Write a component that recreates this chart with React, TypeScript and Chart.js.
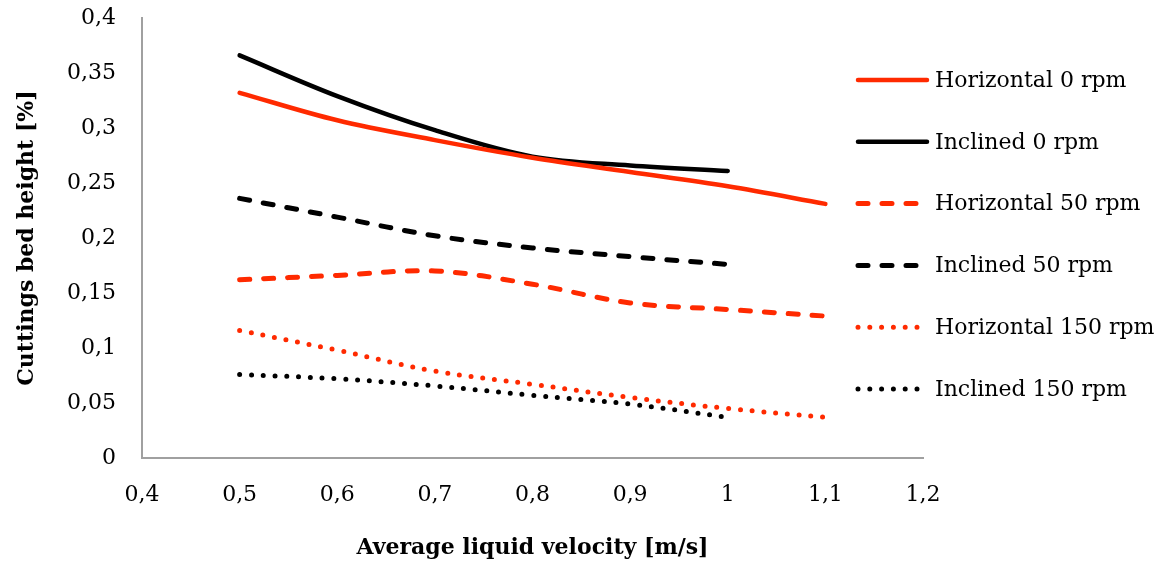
import { useEffect, useRef } from 'react';
import { Chart, registerables } from 'chart.js';

Chart.register(...registerables);

const velocities = [0.5, 0.6, 0.7, 0.8, 0.9, 1.0, 1.1];
const horizontal0 = [0.332, 0.307, 0.289, 0.273, 0.26, 0.247, 0.231];
const inclined0 = [0.366, 0.329, 0.298, 0.274, 0.266, 0.261];
const horizontal50 = [0.162, 0.166, 0.17, 0.158, 0.141, 0.135, 0.129];
const inclined50 = [0.236, 0.219, 0.202, 0.191, 0.183, 0.176];
const horizontal150 = [0.116, 0.098, 0.079, 0.067, 0.055, 0.045, 0.037];
const inclined150 = [0.076, 0.072, 0.0655, 0.057, 0.049, 0.037];
const seriesLabels = [
  'Horizontal 0 rpm',
  'Inclined 0 rpm',
  'Horizontal 50 rpm',
  'Inclined 50 rpm',
  'Horizontal 150 rpm',
  'Inclined 150 rpm',
];
const xTitle = 'Average liquid velocity [m/s]';
const yTitle = 'Cuttings bed height [%]';

const RED = '#ff2a00';
const BLACK = '#000000';
const FONT = '"DejaVu Serif", serif';

const fmt = (v: number) => String(Number(v.toFixed(2))).replace('.', ',');

const toPoints = (ys: number[]) => ys.map((y, i) => ({ x: velocities[i], y }));

const sideLegend = {
  id: 'sideLegend',
  afterDraw(chart: any) {
    const ctx = chart.ctx as CanvasRenderingContext2D;
    const x0 = 858;
    const x1 = 927;
    const tx = 935;
    const top = 80;
    const gap = 61.8;
    chart.data.datasets.forEach((ds: any, i: number) => {
      const y = top + i * gap;
      ctx.save();
      ctx.strokeStyle = ds.borderColor;
      ctx.lineWidth = ds.borderWidth;
      ctx.lineCap = 'round';
      const dash = ds.borderDash || [];
      ctx.setLineDash(dash);
      ctx.beginPath();
      const end = dash.length ? (dash[0] === 0 ? 919 : 920) : x1;
      ctx.moveTo(x0, y);
      ctx.lineTo(end, y);
      ctx.stroke();
      ctx.setLineDash([]);
      ctx.fillStyle = '#000';
      ctx.font = `22px ${FONT}`;
      ctx.textBaseline = 'middle';
      ctx.textAlign = 'left';
      ctx.fillText(ds.label, tx, y + 1);
      ctx.restore();
    });
  },
};

export default function App() {
  const ref = useRef<HTMLCanvasElement>(null);
  useEffect(() => {
    if (!ref.current) return;
    const solid: number[] = [];
    const dashed = [10, 14];
    const dotted = [0, 11.8];
    const mk = (i: number, data: number[], color: string, dash: number[], width: number) => ({
      label: seriesLabels[i],
      data: toPoints(data),
      borderColor: color,
      backgroundColor: color,
      borderWidth: width,
      borderDash: dash,
      borderCapStyle: 'round' as const,
      borderJoinStyle: 'round' as const,
      pointRadius: 0,
      pointHoverRadius: 0,
      tension: 0.35,
      fill: false,
    });
    const chart = new Chart(ref.current, {
      type: 'line',
      data: {
        datasets: [
          mk(0, horizontal0, RED, solid, 4.5),
          mk(1, inclined0, BLACK, solid, 4.5),
          mk(2, horizontal50, RED, dashed, 5),
          mk(3, inclined50, BLACK, dashed, 5),
          mk(4, horizontal150, RED, dotted, 5),
          mk(5, inclined150, BLACK, dotted, 5),
        ],
      },
      options: {
        responsive: false,
        animation: false,
        layout: { padding: { top: 18, right: 242, left: 0, bottom: 0 } },
        plugins: {
          legend: { display: false },
          tooltip: { enabled: false },
        },
        scales: {
          x: {
            type: 'linear',
            min: 0.4,
            max: 1.2,
            grid: { display: false, drawTicks: false },
            border: { display: true, color: '#a0a0a0', width: 2 },
            ticks: {
              stepSize: 0.1,
              padding: 24,
              color: '#000',
              font: { family: FONT, size: 22 },
              callback: (v: any) => fmt(Number(v)),
            },
            title: {
              display: true,
              text: xTitle,
              color: '#000',
              font: { family: FONT, size: 22, weight: 'bold' },
              padding: { top: 0, bottom: 9 },
            },
            afterFit: (s: any) => {
              s.height = 112;
              s.paddingLeft = 0;
              s.paddingRight = 0;
            },
          },
          y: {
            type: 'linear',
            min: 0,
            max: 0.4,
            grid: { display: false, drawTicks: false },
            border: { display: true, color: '#a0a0a0', width: 2 },
            ticks: {
              stepSize: 0.05,
              padding: 26,
              color: '#000',
              font: { family: FONT, size: 22 },
              callback: (v: any) => fmt(Number(v)),
            },
            title: {
              display: true,
              text: yTitle,
              color: '#000',
              font: { family: FONT, size: 22, weight: 'bold' },
              padding: { top: 14, bottom: 0 },
            },
            afterFit: (s: any) => {
              s.width = 142;
              s.paddingTop = 0;
              s.paddingBottom = 0;
            },
          },
        },
      },
      plugins: [sideLegend],
    });
    return () => chart.destroy();
  }, []);
  return (
    <div style={{ position: 'fixed', left: 0, top: 0, width: 1165, height: 570, background: '#fff' }}>
      <canvas ref={ref} width={1165} height={570} />
    </div>
  );
}
